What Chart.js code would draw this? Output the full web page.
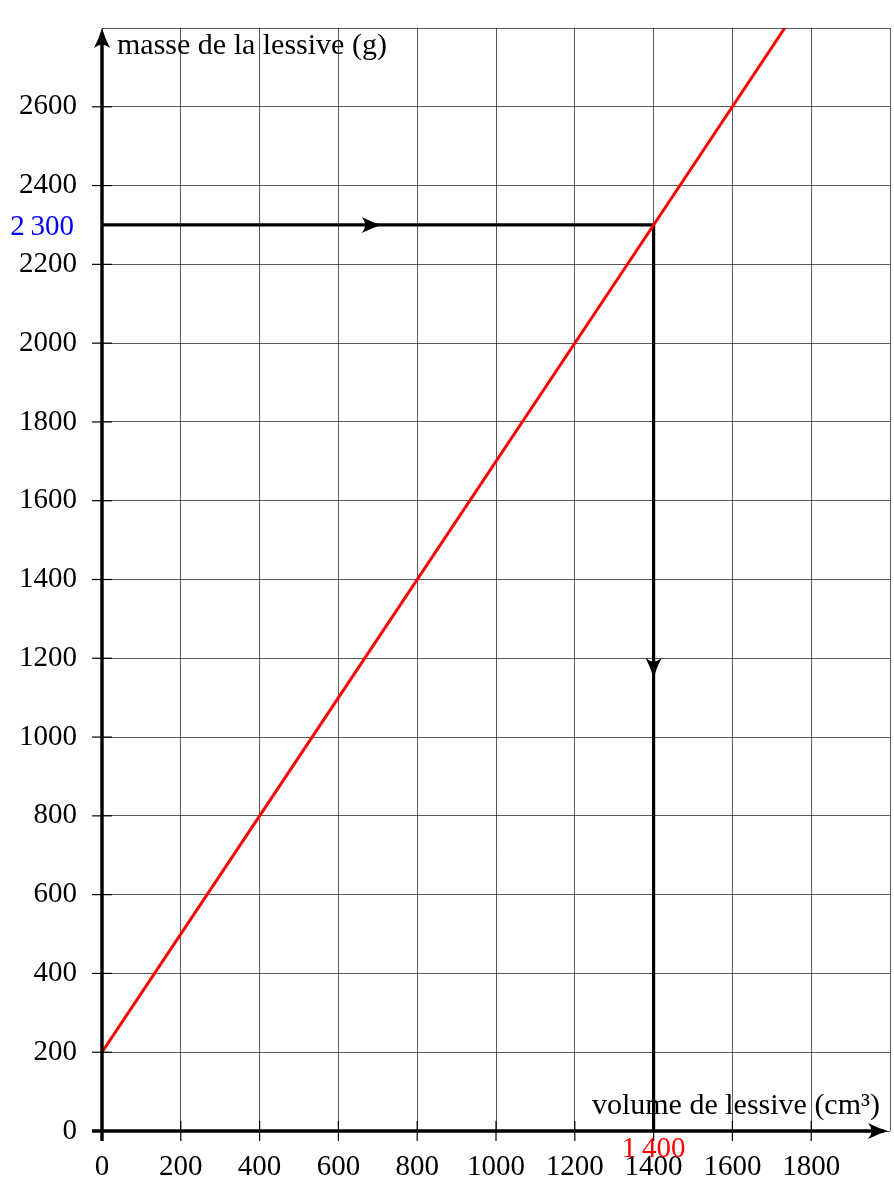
<!DOCTYPE html>
<html>
<head>
<meta charset="utf-8">
<script src="https://cdn.jsdelivr.net/npm/chart.js@4.4.1/dist/chart.umd.min.js"></script>
<style>
html,body{margin:0;padding:0;background:#fff;}
#wrap{width:894px;height:1193px;}
</style>
</head>
<body>
<div id="wrap"><canvas id="c" width="894" height="1193"></canvas></div>
<script>
// ---- data ----
const xMin = 0, xMax = 2000, xStep = 200;
const yMin = 0, yMax = 2800, yStep = 200;
const xTickLabels = ['0','200','400','600','800','1000','1200','1400','1600','1800'];
const yTickLabels = ['0','200','400','600','800','1000','1200','1400','1600','1800','2000','2200','2400','2600'];
const lineVolumes = [0, 400, 1400, 1733];
const lineMasses  = [200, 800, 2300, 2800];
const readVolumes = [0, 1400, 1400];
const readMasses  = [2300, 2300, 0];
const readArrowH = 710;   // volume where horizontal arrow head points
const readArrowV = 1150;  // mass where vertical arrow head points
const readValueY = '2\u2009300';
const readValueX = '1\u2009400';
const xTitle = 'volume de lessive (cm\u00B3)';
const yTitle = 'masse de la lessive (g)';

const FONT = '"Liberation Serif", "DejaVu Serif", serif';

function arrowHead(ctx, x, y, angle, len, half) {
  ctx.save();
  ctx.translate(x, y);
  ctx.rotate(angle);
  ctx.beginPath();
  ctx.moveTo(0, 0);
  ctx.quadraticCurveTo(-len*0.5, -half*0.35, -len, -half);
  ctx.quadraticCurveTo(-len*0.65, 0, -len, half);
  ctx.quadraticCurveTo(-len*0.5, half*0.35, 0, 0);
  ctx.closePath();
  ctx.fillStyle = '#000';
  ctx.fill();
  ctx.restore();
}

const decor = {
  id: 'decor',
  afterDatasetsDraw(chart) {
    const ctx = chart.ctx;
    const xs = chart.scales.x, ys = chart.scales.y;
    const x0 = xs.getPixelForValue(0), y0 = ys.getPixelForValue(0);
    const area = chart.chartArea;
    ctx.save();
    // tick marks
    ctx.strokeStyle = '#000';
    ctx.lineWidth = 1.2;
    yTickLabels.forEach(l => {
      const py = ys.getPixelForValue(Number(l));
      ctx.beginPath(); ctx.moveTo(x0 - 10, py); ctx.lineTo(x0 + 10, py); ctx.stroke();
    });
    xTickLabels.forEach(l => {
      const px = xs.getPixelForValue(Number(l));
      ctx.beginPath(); ctx.moveTo(px, y0 - 10); ctx.lineTo(px, y0 + 10); ctx.stroke();
    });
    // axes
    ctx.lineWidth = 3.4;
    ctx.beginPath();
    ctx.moveTo(x0, y0 + 10); ctx.lineTo(x0, area.top + 6);
    ctx.moveTo(x0 - 10, y0); ctx.lineTo(area.right - 6, y0);
    ctx.stroke();
    arrowHead(ctx, x0, area.top, -Math.PI/2, 20, 8);
    arrowHead(ctx, area.right - 2, y0, 0, 20, 8);
    // reading arrows
    arrowHead(ctx, xs.getPixelForValue(readArrowH), ys.getPixelForValue(readMasses[0]), 0, 20, 8);
    arrowHead(ctx, xs.getPixelForValue(readVolumes[1]), ys.getPixelForValue(readArrowV), Math.PI/2, 20, 8);
    // texts
    ctx.font = '30px ' + FONT;
    ctx.fillStyle = '#000';
    ctx.textAlign = 'left';
    ctx.textBaseline = 'alphabetic';
    ctx.fillText(yTitle, x0 + 15, 54);
    ctx.textAlign = 'right';
    ctx.fillText(xTitle, area.right - 10, 1114);
    ctx.font = '29px ' + FONT;
    ctx.textBaseline = 'middle';
    ctx.fillStyle = '#0000ff';
    ctx.fillText(readValueY, 74, ys.getPixelForValue(readMasses[0]) + 2);
    ctx.textAlign = 'center';
    ctx.fillStyle = '#ff0000';
    ctx.fillText(readValueX, xs.getPixelForValue(readVolumes[1]), 1149);
    ctx.restore();
  }
};

new Chart(document.getElementById('c'), {
  type: 'scatter',
  data: {
    datasets: [
      {
        data: lineVolumes.map((v, i) => ({x: v, y: lineMasses[i]})),
        showLine: true, borderColor: '#ff0000', borderWidth: 3,
        pointRadius: 0, fill: false, tension: 0
      },
      {
        data: readVolumes.map((v, i) => ({x: v, y: readMasses[i]})),
        showLine: true, borderColor: '#000', borderWidth: 3.2,
        pointRadius: 0, fill: false, tension: 0
      }
    ]
  },
  options: {
    responsive: false,
    animation: false,
    devicePixelRatio: 1,
    layout: {padding: {left: 0, right: 4, top: 28, bottom: 0}},
    plugins: {legend: {display: false}, tooltip: {enabled: false}},
    scales: {
      x: {
        type: 'linear', min: xMin, max: xMax,
        border: {display: false},
        grid: {color: 'rgba(0,0,0,0.65)', lineWidth: 1, drawTicks: false},
        afterFit(s) { s.height = 62; s.paddingLeft = 0; s.paddingRight = 0; },
        ticks: {
          stepSize: xStep, padding: 19, maxRotation: 0, autoSkip: false,
          color: '#000', font: {family: FONT, size: 29},
          callback: v => xTickLabels.includes(String(v)) ? String(v) : ''
        }
      },
      y: {
        type: 'linear', min: yMin, max: yMax,
        border: {display: false},
        grid: {color: 'rgba(0,0,0,0.65)', lineWidth: 1, drawTicks: false},
        afterFit(s) { s.width = 102; s.paddingTop = 0; s.paddingBottom = 0; },
        ticks: {
          stepSize: yStep, padding: 25, autoSkip: false,
          color: '#000', font: {family: FONT, size: 29},
          callback: v => yTickLabels.includes(String(v)) ? String(v) : ''
        }
      }
    }
  },
  plugins: [decor]
});
</script>
</body>
</html>
